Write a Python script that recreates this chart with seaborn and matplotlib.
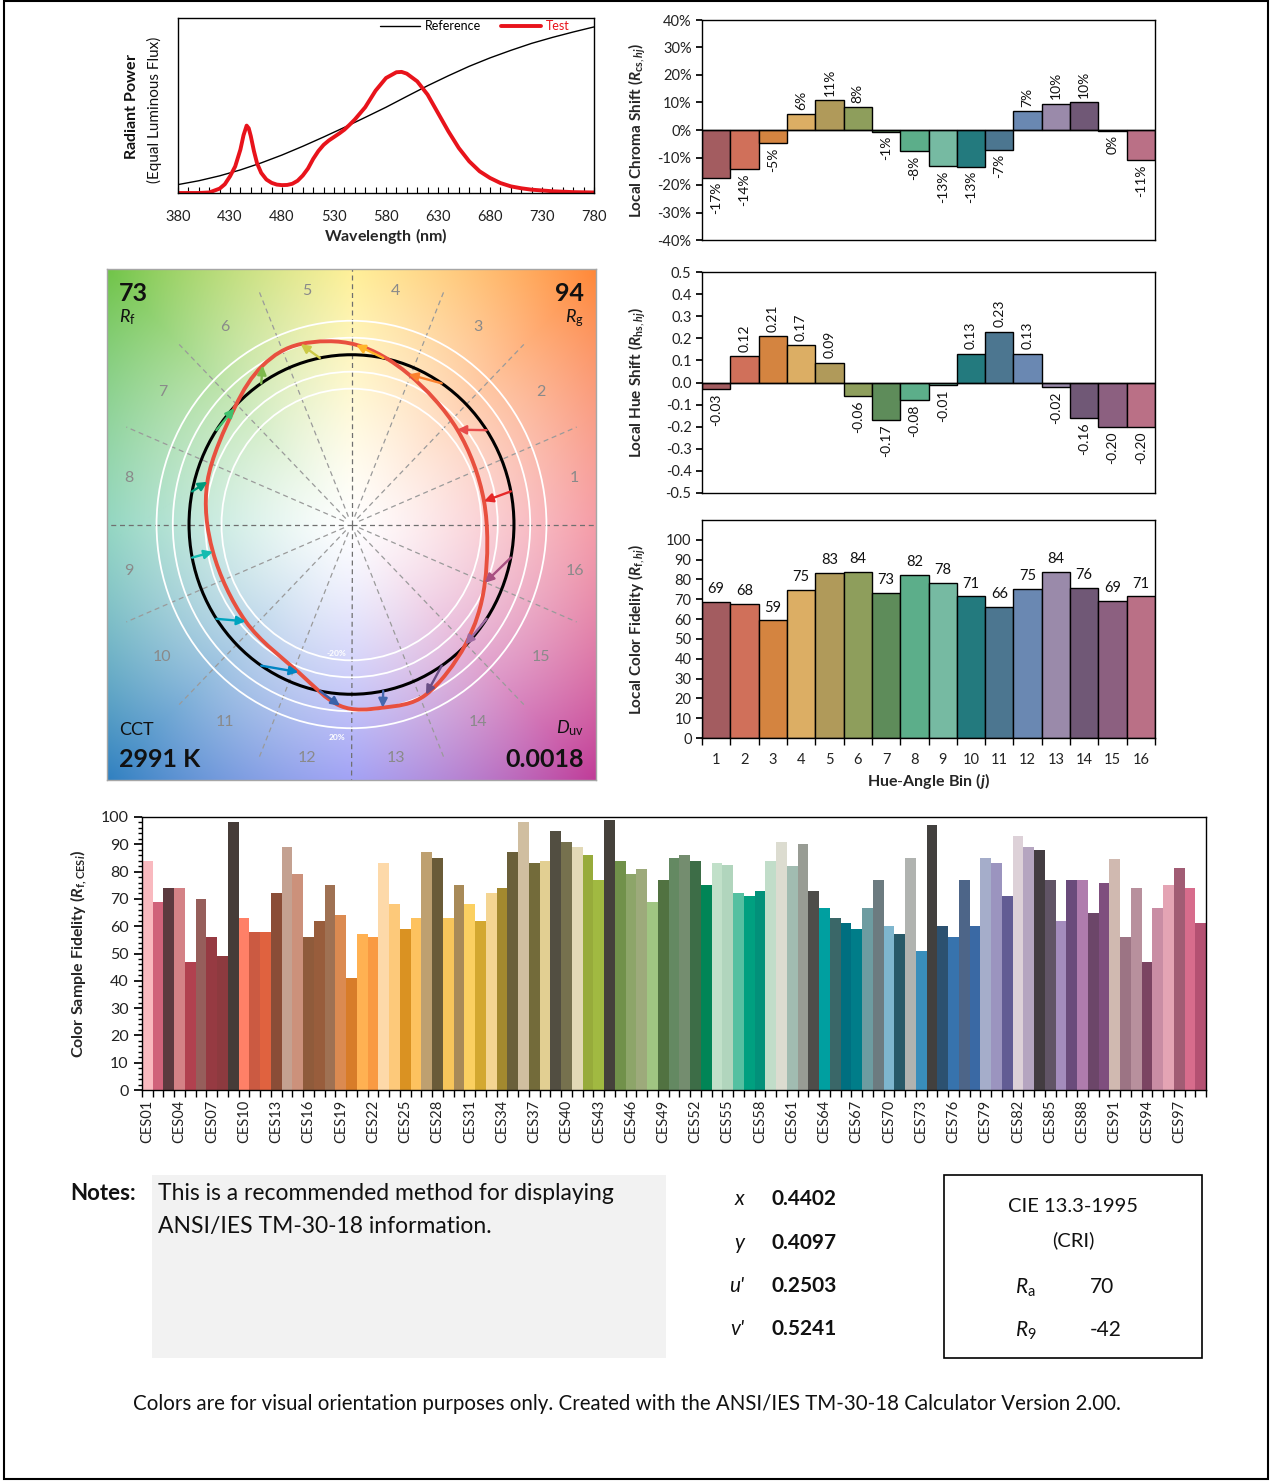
import numpy as np
import pandas as pd
import matplotlib
matplotlib.use("Agg")
import matplotlib.pyplot as plt
import seaborn as sns
from matplotlib.path import Path
from matplotlib.patches import PathPatch, Rectangle, Circle, FancyArrowPatch
from matplotlib.ticker import MultipleLocator, FixedLocator, FuncFormatter
import matplotlib.colors as mcolors

# ------------------------------------------------------------------ data
ref_wavelength = [380, 400, 420, 440, 460, 480, 500, 520, 540, 560, 580, 600,
                  620, 640, 660, 680, 700, 720, 740, 760, 780]
ref_power = [0.048, 0.070, 0.098, 0.132, 0.172, 0.217, 0.267, 0.320, 0.375, 0.432,
             0.490, 0.552, 0.613, 0.670, 0.724, 0.772, 0.815, 0.855, 0.889, 0.920, 0.949]

test_wavelength = [380, 400, 410, 420, 425, 430, 435, 440, 443, 446, 448, 450, 453,
                   456, 460, 465, 470, 475, 480, 485, 490, 495, 500, 505, 510, 515,
                   520, 525, 530, 535, 540, 545, 550, 560, 570, 580, 590, 595, 600,
                   610, 620, 630, 640, 650, 660, 670, 680, 690, 700, 710, 720, 740,
                   760, 780]
test_power = [0.0, 0.0, 0.003, 0.025, 0.05, 0.095, 0.152, 0.248, 0.33, 0.385, 0.37,
              0.325, 0.24, 0.17, 0.115, 0.077, 0.058, 0.048, 0.045, 0.046, 0.053,
              0.07, 0.10, 0.14, 0.195, 0.24, 0.275, 0.30, 0.32, 0.34, 0.362, 0.39,
              0.42, 0.49, 0.585, 0.657, 0.69, 0.692, 0.682, 0.638, 0.562, 0.457,
              0.352, 0.257, 0.181, 0.124, 0.086, 0.057, 0.038, 0.027, 0.019, 0.01,
              0.005, 0.003]

bins = [str(i) for i in range(1, 17)]
bin_colors = ["#A35C60", "#D0705A", "#D48440", "#DCAE64", "#B09A5A", "#8E9E5C",
              "#5E8C5A", "#5CAE8A", "#76BAA2", "#237A7E", "#4C7690", "#6A88B2",
              "#9A8AAA", "#705876", "#8C6080", "#BA7086"]
arrow_colors = ["#E62828", "#E74B4B", "#FB812E", "#FFB529", "#CBCA46", "#7EB94C",
                "#41C06D", "#009C7C", "#16BCB0", "#00A4BF", "#0085C3", "#3B62AA",
                "#4568AE", "#6A4E85", "#9D69A1", "#A74F81"]
chroma_shift = [-0.173, -0.142, -0.048, 0.059, 0.108, 0.084, -0.006, -0.078,
                -0.132, -0.134, -0.071, 0.070, 0.096, 0.102, -0.004, -0.110]
hue_shift = [-0.03, 0.12, 0.21, 0.17, 0.09, -0.06, -0.17, -0.08, -0.01, 0.13,
             0.23, 0.13, -0.02, -0.16, -0.20, -0.20]
local_fidelity = [68.6, 67.8, 59.3, 74.6, 83.2, 84.0, 73.0, 82.4, 78.0, 71.4,
                  66.0, 75.0, 84.0, 75.8, 69.2, 71.4]

ces_labels = [f"CES{i:02d}" for i in range(1, 100)]
ces_fidelity = [84, 69, 74, 74, 47, 70, 56, 49, 98,
                63, 58, 58, 72, 89, 79, 56, 62, 75,
                64, 41, 57, 56, 83, 68, 59, 63, 87,
                85, 63, 75, 68, 62, 72, 74, 87, 98,
                83, 84, 95, 91, 89, 86, 77, 99, 84,
                79, 81, 69, 77, 85, 86, 84, 75, 83,
                82.6, 72, 71, 73, 84, 91, 82, 90, 73,
                66.5, 63, 61, 59, 66.5, 77, 60, 57, 85,
                51, 97, 60, 56, 77, 60, 85, 83, 71,
                93, 89, 88, 77, 62, 77, 77, 65, 76,
                84.5, 56, 74, 47, 66.5, 75, 81.5, 74, 61]
ces_colors = [
    "#F9B9BF", "#D0627A", "#5C3A3F", "#D48286", "#B1414F", "#965E5B", "#963A42", "#8D3A3F", "#463C38",
    "#FF8067", "#CB5A42", "#E0623F", "#8A4D37", "#C4A191", "#CC917B", "#8F5B3B", "#985D3C", "#9F7153",
    "#DB8A51", "#D87C29", "#FFB152", "#F99A42", "#FDD9A9", "#FDC97A", "#DA9222", "#FDC25F", "#BEA070",
    "#6A5B38", "#F7C55B", "#A88A58", "#FBD061", "#D3A830", "#F4D592", "#A3892F", "#6A5F3A", "#D0BEA0",
    "#736B3A", "#E2CF92", "#524E41", "#76714E", "#E2D9B6", "#97AB3B", "#A1B941", "#45413B", "#71914A",
    "#8DA569", "#9DAA7B", "#A0C582", "#517241", "#648962", "#748D6F", "#3D6D47", "#018556", "#C1E0C9",
    "#B1D5BD", "#55C0A1", "#00A080", "#02917A", "#C1DDC9", "#DCDCD0", "#A1BCB1", "#989C94", "#4E4D4A",
    "#009FA0", "#3A6768", "#006F80", "#007D89", "#6D9CA1", "#6C7B80", "#7EB6CE", "#275968", "#B0B3B0",
    "#398EBB", "#42403E", "#2C5170", "#3773AD", "#4D6588", "#3A69A4", "#A5ADCA", "#9B94BF", "#625C94",
    "#DDD1D8", "#B5A5C0", "#433C41", "#615466", "#A48CBD", "#6A4B7B", "#AF7CAD", "#6C4669", "#7F4E7E",
    "#D0B9B0", "#9C7484", "#B8909D", "#7B4462", "#C98DA4", "#E4A4B4", "#A15C74", "#D76C8C", "#B45172"]

Rf_value = "73"
Rg_value = "94"
cct_value = "2991 K"
duv_value = "0.0018"
chroma_names = ["x", "y", "u'", "v'"]
chroma_values = ["0.4402", "0.4097", "0.2503", "0.5241"]
Ra_value = "70"
R9_value = "-42"

bg_anchor_colors = ["#F06878", "#FF8838", "#FFE860", "#70C448",
                    "#58C0A0", "#3080C0", "#7070F0", "#C03C98"]

# ------------------------------------------------------------------ style
sns.set_theme(style="white")
plt.rcParams["font.family"] = ["Lato", "DejaVu Sans"]
plt.rcParams.update({
    "mathtext.fontset": "custom",
    "mathtext.rm": "Lato",
    "mathtext.it": "Lato:italic",
    "mathtext.bf": "Lato:bold",
    "mathtext.bfit": "Lato:italic:bold",
    "xtick.bottom": True, "ytick.left": True,
    "xtick.color": "black", "ytick.color": "black",
    "xtick.labelcolor": "#222222", "ytick.labelcolor": "#222222",
    "axes.edgecolor": "black", "axes.linewidth": 1.0,
    "text.color": "#111111",
})

W, H = 1273, 1484
fig = plt.figure(figsize=(W / 100, H / 100), dpi=100)
fig.patch.set_facecolor("white")


def add_ax(l, t, r, b):
    return fig.add_axes([l / W, 1 - b / H, (r - l) / W, (b - t) / H])


def fx(x):
    return x / W


def fy(y):
    return 1 - y / H


# ------------------------------------------------------------------ spectrum
ax = add_ax(178, 18, 594, 193)
ref_df = pd.DataFrame({"Wavelength": ref_wavelength, "Power": ref_power})
test_df = pd.DataFrame({"Wavelength": test_wavelength, "Power": test_power})
sns.lineplot(data=ref_df, x="Wavelength", y="Power", color="black", lw=1.0,
             ax=ax, label="Reference")
sns.lineplot(data=test_df, x="Wavelength", y="Power", color="#E8131B", lw=2.8,
             ax=ax, label="Test")
ax.set_xlim(380, 780)
ax.set_ylim(0, 1)
ax.set_xticks(range(380, 781, 50))
ax.xaxis.set_minor_locator(MultipleLocator(10))
ax.tick_params(axis="x", which="both", direction="in", length=4, width=0.8,
               labelsize=10.5, pad=12)
ax.set_yticks([])
ax.set_xlabel(r"$\mathbf{Wavelength\ (nm)}$", fontsize=11.5, labelpad=2)
ax.set_ylabel("")
ax.legend(loc="upper right", bbox_to_anchor=(0.955, 1.02), ncol=2, frameon=False,
          fontsize=9, labelcolor="linecolor", handlelength=3.2,
          borderaxespad=0.05, columnspacing=1.6, handletextpad=0.4)
fig.text(fx(131), fy(106), r"$\mathbf{Radiant\ Power}$", rotation=90,
         fontsize=11.5, ha="center", va="center")
fig.text(fx(154), fy(110), "(Equal Luminous Flux)", rotation=90, fontsize=11,
         ha="center", va="center")


# ------------------------------------------------------------------ bin bars
def bin_bars(axb, values):
    df = pd.DataFrame({"Bin": bins, "Value": values})
    sns.barplot(data=df, x="Bin", y="Value", hue="Bin", palette=bin_colors,
                width=1.0, edgecolor="black", linewidth=1.0, saturation=1,
                legend=False, ax=axb)
    axb.set_xlim(-0.5, 15.5)
    axb.tick_params(axis="y", direction="out", length=4, labelsize=10.5)


# chroma shift
ax1 = add_ax(702, 20, 1155, 240)
bin_bars(ax1, chroma_shift)
ax1.set_ylim(-0.4, 0.4)
ax1.yaxis.set_major_locator(FixedLocator(np.round(np.arange(-0.4, 0.41, 0.1), 2)))
ax1.yaxis.set_major_formatter(FuncFormatter(lambda v, _: f"{int(round(v * 100))}%"))
ax1.set_xticks([])
ax1.set_xlabel("")
ax1.axhline(0, color="black", lw=1.0, zorder=3)
ax1.set_ylabel(r"$\mathbf{Local\ Chroma\ Shift\ (}\mathbfit{R}_{\mathbf{cs},\mathbfit{hj}}\mathbf{)}$",
               fontsize=11)
ax1.yaxis.set_label_coords(-0.12, 0.5)
for i, v in enumerate(chroma_shift):
    lab = f"{int(round(v * 100))}%"
    if v >= 0:
        ax1.text(i, v + 0.015, lab, rotation=90, ha="center", va="bottom", fontsize=10)
    else:
        ax1.text(i, v - 0.015, lab, rotation=90, ha="center", va="top", fontsize=10)

# hue shift
ax2 = add_ax(702, 272, 1155, 493)
bin_bars(ax2, hue_shift)
ax2.set_ylim(-0.5, 0.5)
ax2.yaxis.set_major_locator(FixedLocator(np.round(np.arange(-0.5, 0.51, 0.1), 2)))
ax2.yaxis.set_major_formatter(FuncFormatter(lambda v, _: f"{round(v, 1) + 0.0:.1f}"))
ax2.set_xticks([])
ax2.set_xlabel("")
ax2.axhline(0, color="black", lw=1.0, zorder=3)
ax2.set_ylabel(r"$\mathbf{Local\ Hue\ Shift\ (}\mathbfit{R}_{\mathbf{hs},\mathbfit{hj}}\mathbf{)}$",
               fontsize=11)
ax2.yaxis.set_label_coords(-0.12, 0.5)
for i, v in enumerate(hue_shift):
    lab = f"{v:.2f}"
    if v >= 0:
        ax2.text(i, v + 0.02, lab, rotation=90, ha="center", va="bottom", fontsize=10)
    else:
        ax2.text(i, v - 0.02, lab, rotation=90, ha="center", va="top", fontsize=10)

# local fidelity
ax3 = add_ax(702, 520, 1155, 738)
bin_bars(ax3, local_fidelity)
ax3.set_ylim(0, 110)
ax3.yaxis.set_major_locator(FixedLocator(range(0, 101, 10)))
ax3.tick_params(axis="x", which="major", length=0, labelsize=10.5, pad=11)
ax3.xaxis.set_minor_locator(FixedLocator(np.arange(-0.5, 16, 1)))
ax3.tick_params(axis="x", which="minor", length=5, direction="out", bottom=True)
ax3.set_xlabel(r"$\mathbf{Hue\text{-}Angle\ Bin\ (}\mathbfit{j}\mathbf{)}$",
               fontsize=11.5, labelpad=3)
ax3.set_ylabel(r"$\mathbf{Local\ Color\ Fidelity\ (}\mathbfit{R}_{\mathbf{f},\mathbfit{hj}}\mathbf{)}$",
               fontsize=11)
ax3.yaxis.set_label_coords(-0.12, 0.5)
for i, v in enumerate(local_fidelity):
    ax3.text(i, v + 3, f"{v:.0f}", ha="center", va="bottom", fontsize=10.5)

# ------------------------------------------------------------------ vector graphic
axv = add_ax(107, 269, 596, 780)
RL = 1.505
axv.set_xlim(-RL, RL)
axv.set_ylim(-RL, RL)
n = 500
grid = np.linspace(-RL, RL, n)
GX, GY = np.meshgrid(grid, grid)
rad = np.hypot(GX, GY)
ang = np.degrees(np.arctan2(GY, GX)) % 360
anch = np.array([mcolors.to_rgb(c) for c in bg_anchor_colors + [bg_anchor_colors[0]]])
anch_ang = np.arange(0, 361, 45)
rgb = np.stack([np.interp(ang, anch_ang, anch[:, k]) for k in range(3)], -1)
tt = np.clip(rad / 2.13, 0, 1) ** 1.25
img = 1 - tt[..., None] * (1 - rgb)
axv.imshow(img, extent=[-RL, RL, -RL, RL], origin="lower", aspect="auto",
           zorder=0, interpolation="bilinear")

for k in range(16):
    a = np.radians(k * 22.5)
    main = (k % 4 == 0)
    r0, r1 = (0.0, 1.6) if main else (0.05, 1.5)
    axv.plot([r0 * np.cos(a), r1 * np.cos(a)], [r0 * np.sin(a), r1 * np.sin(a)],
             color="#707070" if main else "#9a9a9a", lw=0.9,
             ls=(0, (4, 3)), zorder=1)

for rr in [0.8, 0.9, 1.1, 1.2]:
    axv.add_patch(Circle((0, 0), rr, fill=False, ec="white", lw=1.3, zorder=2))
axv.add_patch(Circle((0, 0), 1.0, fill=False, ec="black", lw=2.2, zorder=3))

theta = np.radians((np.arange(16) + 0.5) * 22.5)
r_test = 1 + np.array(chroma_shift)
a_test = theta + np.array(hue_shift)
P = np.column_stack([r_test * np.cos(a_test), r_test * np.sin(a_test)])
verts = [P[0]]
codes = [Path.MOVETO]
for i in range(16):
    p0, p1, p2, p3 = P[i - 1], P[i], P[(i + 1) % 16], P[(i + 2) % 16]
    verts += [p1 + (p2 - p0) / 6, p2 - (p3 - p1) / 6, p2]
    codes += [Path.CURVE4] * 3
axv.add_patch(PathPatch(Path(verts, codes), fill=False, ec="#E8503F", lw=2.8,
                        zorder=4))
for i in range(16):
    start = (np.cos(theta[i]), np.sin(theta[i]))
    axv.add_patch(FancyArrowPatch(start, tuple(P[i]), arrowstyle="-|>",
                                  mutation_scale=13, color=arrow_colors[i], lw=1.7,
                                  shrinkA=0, shrinkB=0, zorder=5))
for i in range(16):
    axv.text(1.4 * np.cos(theta[i]), 1.4 * np.sin(theta[i]), bins[i],
             color="#8a8a8a", fontsize=11.5, ha="center", va="center", zorder=2)
axv.text(-0.09, -0.76, "-20%", color="white", fontsize=6, fontweight="bold",
         ha="center", va="center", zorder=3)
axv.text(-0.09, -1.255, "20%", color="white", fontsize=6, fontweight="bold",
         ha="center", va="center", zorder=3)
axv.text(0.025, 0.975, Rf_value, transform=axv.transAxes, fontsize=18,
         fontweight="bold", ha="left", va="top", zorder=6)
axv.text(0.025, 0.925, r"$R_\mathrm{f}$", transform=axv.transAxes, fontsize=13,
         ha="left", va="top", zorder=6)
axv.text(0.975, 0.975, Rg_value, transform=axv.transAxes, fontsize=18,
         fontweight="bold", ha="right", va="top", zorder=6)
axv.text(0.975, 0.925, r"$R_\mathrm{g}$", transform=axv.transAxes, fontsize=13,
         ha="right", va="top", zorder=6)
axv.text(0.025, 0.082, "CCT", transform=axv.transAxes, fontsize=13,
         ha="left", va="bottom", zorder=6)
axv.text(0.025, 0.018, cct_value, transform=axv.transAxes, fontsize=18,
         fontweight="bold", ha="left", va="bottom", zorder=6)
axv.text(0.975, 0.082, r"$D_\mathrm{uv}$", transform=axv.transAxes, fontsize=13,
         ha="right", va="bottom", zorder=6)
axv.text(0.975, 0.018, duv_value, transform=axv.transAxes, fontsize=18,
         fontweight="bold", ha="right", va="bottom", zorder=6)
axv.set_xticks([])
axv.set_yticks([])
for s in axv.spines.values():
    s.set_color("#A6A6A6")
    s.set_linewidth(1.0)

# ------------------------------------------------------------------ CES chart
axc = add_ax(142, 817, 1206, 1090)
ces_df = pd.DataFrame({"Sample": ces_labels, "Rf": ces_fidelity})
sns.barplot(data=ces_df, x="Sample", y="Rf", hue="Sample", palette=ces_colors,
            width=1.0, linewidth=0, saturation=1, legend=False, ax=axc)
axc.set_xlim(-0.5, 98.5)
axc.set_ylim(0, 100)
axc.set_xticks(range(0, 99, 3))
axc.set_xticklabels(ces_labels[::3], rotation=90, fontsize=10.5)
axc.xaxis.set_minor_locator(FixedLocator(np.arange(-0.5, 99, 1)))
axc.tick_params(axis="x", which="major", length=0, pad=7)
axc.tick_params(axis="x", which="minor", length=5, direction="out", bottom=True)
axc.yaxis.set_major_locator(MultipleLocator(10))
axc.yaxis.set_minor_locator(MultipleLocator(2))
axc.tick_params(axis="y", which="major", length=6, direction="out", labelsize=11.5)
axc.tick_params(axis="y", which="minor", length=3, direction="out", left=True)
axc.set_xlabel("")
axc.set_ylabel(r"$\mathbf{Color\ Sample\ Fidelity\ (}\mathbfit{R}_{\mathbf{f,CES}\mathbfit{i}}\mathbf{)}$",
               fontsize=11.5)
axc.yaxis.set_label_coords(-0.05, 0.5)

# ------------------------------------------------------------------ bottom texts
fig.text(fx(70), fy(1194), "Notes:", fontweight="bold", fontsize=16, va="center")
fig.patches.append(Rectangle((fx(152), fy(1358)), (666 - 152) / W, (1358 - 1175) / H,
                             transform=fig.transFigure, facecolor="#F2F2F2",
                             edgecolor="none", zorder=0))
fig.text(fx(158), fy(1194), "This is a recommended method for displaying",
         fontsize=16.5, va="center")
fig.text(fx(158), fy(1226), "ANSI/IES TM-30-18 information.", fontsize=16.5,
         va="center")
for yy, nm, val in zip([1199, 1243, 1286, 1329], chroma_names, chroma_values):
    fig.text(fx(744), fy(yy), nm, fontstyle="italic", fontsize=15, ha="right",
             va="center")
    fig.text(fx(772), fy(yy), val, fontweight="bold", fontsize=15, ha="left",
             va="center")
fig.patches.append(Rectangle((fx(944), fy(1358)), (1202 - 944) / W, (1358 - 1175) / H,
                             transform=fig.transFigure, facecolor="none",
                             edgecolor="black", lw=1.2))
fig.text(fx(1073), fy(1207), "CIE 13.3-1995", fontsize=14.5, ha="center", va="center")
fig.text(fx(1073), fy(1240), "(CRI)", fontsize=14.5, ha="center", va="center")
fig.text(fx(1015), fy(1288), r"$R_\mathrm{a}$", fontsize=15, ha="left", va="center")
fig.text(fx(1090), fy(1287), Ra_value, fontsize=15, ha="left", va="center")
fig.text(fx(1015), fy(1331), r"$R_\mathrm{9}$", fontsize=15, ha="left", va="center")
fig.text(fx(1090), fy(1330), R9_value, fontsize=15, ha="left", va="center")
fig.text(fx(627), fy(1404),
         "Colors are for visual orientation purposes only. Created with the ANSI/IES TM-30-18 Calculator Version 2.00.",
         fontsize=14.8, ha="center", va="center")
fig.patches.append(Rectangle((fx(4), fy(1479)), (1268 - 4) / W, (1479 - 1) / H,
                             transform=fig.transFigure, facecolor="none",
                             edgecolor="black", lw=1.5))

fig.savefig("out.png", dpi=100)
